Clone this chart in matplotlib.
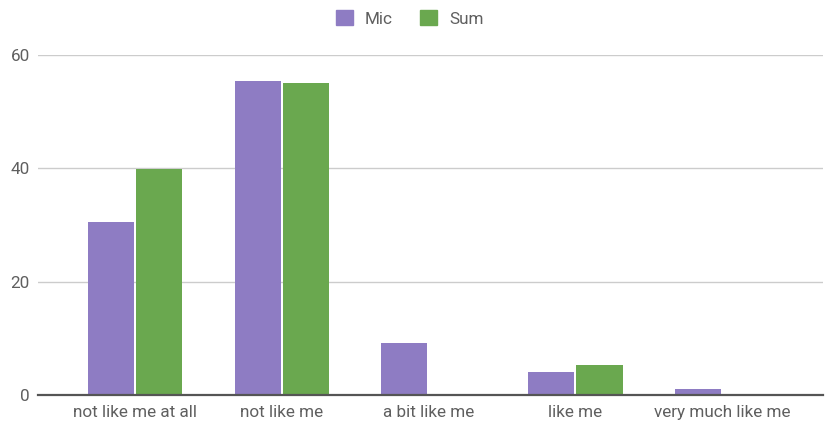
import matplotlib
matplotlib.use("Agg")
import matplotlib.pyplot as plt
import numpy as np
from matplotlib.patches import Patch

# data
categories = ["not like me at all", "not like me", "a bit like me", "like me", "very much like me"]
mic = [30.5, 55.4, 9.1, 4.0, 1.0]
sum_vals = [39.9, 55.1, 0, 5.3, 0]
yticks = [0, 20, 40, 60]

mic_color = "#8e7cc3"
sum_color = "#6aa84f"
text_color = "#5f5f5f"

plt.rcParams["font.family"] = ["Roboto", "DejaVu Sans"]

fig = plt.figure(figsize=(8.28, 4.28), dpi=100)
ax = fig.add_axes([38 / 828, 1 - 395 / 428, (823 - 38) / 828, (395 - 55) / 428])

x = np.arange(len(categories))
w = 0.315
gap = 0.007
ax.bar(x - w / 2 - gap, mic, width=w, color=mic_color, zorder=3)
ax.bar(x + w / 2 + gap, sum_vals, width=w, color=sum_color, zorder=3)

ax.set_xlim(-0.661, 4.688)
ax.set_ylim(0, 60)
ax.set_yticks(yticks)
ax.set_yticklabels([str(t) for t in yticks])
ax.set_xticks(x)
ax.set_xticklabels(categories)

ax.grid(axis="y", color="#cccccc", linewidth=1, zorder=0)
for s in ["top", "right", "left"]:
    ax.spines[s].set_visible(False)
ax.spines["bottom"].set_color("#555555")
ax.spines["bottom"].set_linewidth(1.6)
ax.spines["bottom"].set_zorder(4)

ax.tick_params(axis="both", length=0, labelsize=12.3, colors=text_color)
ax.tick_params(axis="y", pad=6)
ax.tick_params(axis="x", pad=7)

handles = [Patch(color=mic_color, label="Mic"), Patch(color=sum_color, label="Sum")]
fig.legend(handles=handles, loc="center", bbox_to_anchor=(0.495, 0.957), ncol=2,
           frameon=False, fontsize=12.3, labelcolor=text_color,
           handlelength=1.0, handleheight=1.0, handletextpad=0.7, columnspacing=1.6)

fig.savefig("out.png", dpi=100)
